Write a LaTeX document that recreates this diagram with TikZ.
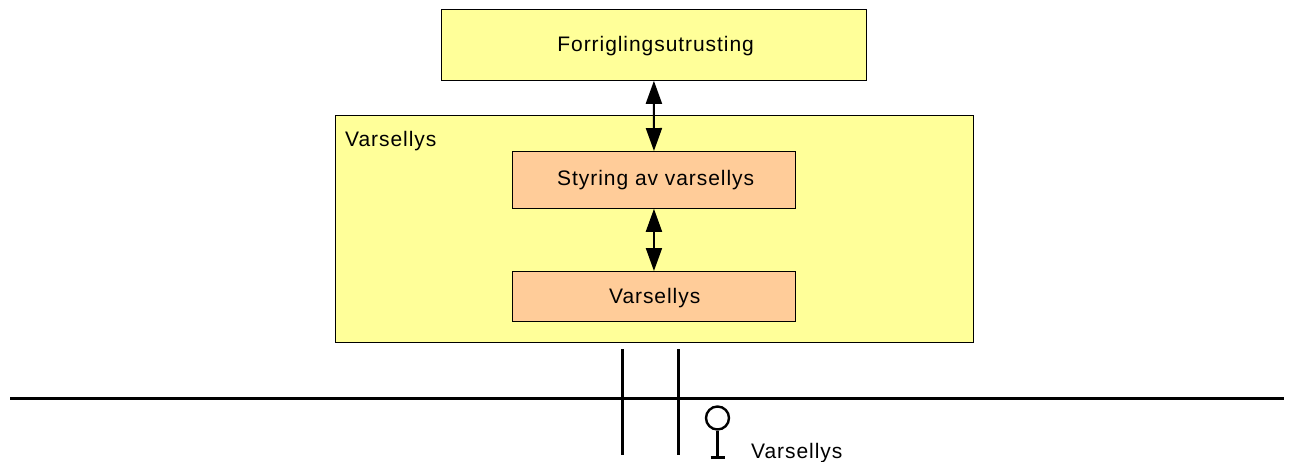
\documentclass[tikz,border=0pt]{standalone}
\usepackage{fontspec}
\setmainfont{Liberation Sans}[LetterSpace=4.5]
\usetikzlibrary{arrows.meta}
\definecolor{paleyellow}{HTML}{FFFF99}
\definecolor{paleorange}{HTML}{FFCC99}
\tikzset{
  box/.style={draw=black,line width=0.8pt,anchor=north west,inner sep=0pt,font=\fontsize{21}{24}\selectfont},
  yellowbox/.style={box,fill=paleyellow},
  orangebox/.style={box,fill=paleorange},
  label/.style={inner sep=0pt,font=\fontsize{21}{24}\selectfont},
  link/.style={line width=2pt,{Triangle[length=23pt,width=16pt]}-{Triangle[length=23pt,width=16pt]}},
  heavy/.style={line width=2.6pt},
}
\begin{document}
\begin{tikzpicture}[x=1pt,y=-1pt]
\useasboundingbox (0,0) rectangle (1290,461);
\node[yellowbox,minimum width=425pt,minimum height=71pt] (forr) at (441,9) {\hspace{3.5pt}\raisebox{0pt}[18.6pt][6pt]{Forriglingsutrusting}};
\node[yellowbox,minimum width=637.5pt,minimum height=227pt] (outer) at (335,115) {};
\node[label,anchor=base west] (outerlabel) at (345,146) {Varsellys};
\node[orangebox,minimum width=283.5pt,minimum height=57pt] (styr) at (511.8,151) {\hspace{3.5pt}\raisebox{0pt}[17.6pt][6pt]{Styring av varsellys}};
\node[orangebox,minimum width=283.5pt,minimum height=50pt] (vars) at (511.8,271) {\hspace{1.5pt}\raisebox{0pt}[20.6pt][6pt]{Varsellys}};
\draw[link] (forr.south) -- (styr.north);
\draw[link] (styr.south) -- (vars.north);
\coordinate (trackL) at (10,398.5);
\coordinate (trackR) at (1284,398.5);
\draw[heavy] (trackL) -- (trackR);
\coordinate (c1t) at (622.5,349);
\coordinate (c1b) at (622.5,455);
\coordinate (c2t) at (678.6,349);
\coordinate (c2b) at (678.6,455);
\draw[heavy] (c1t) -- (c1b);
\draw[heavy] (c2t) -- (c2b);
\node[draw=black,line width=2.4pt,circle,minimum size=23pt,inner sep=0pt] (lamp) at (717.5,418) {};
\coordinate (base) at (717.5,457.5);
\coordinate (baseL) at (710.5,457.5);
\coordinate (baseR) at (725,457.5);
\draw[heavy] (lamp.south) -- (base);
\draw[heavy] (baseL) -- (baseR);
\node[label,anchor=base west] (lamplabel) at (751,458.5) {Varsellys};
\end{tikzpicture}
\end{document}
